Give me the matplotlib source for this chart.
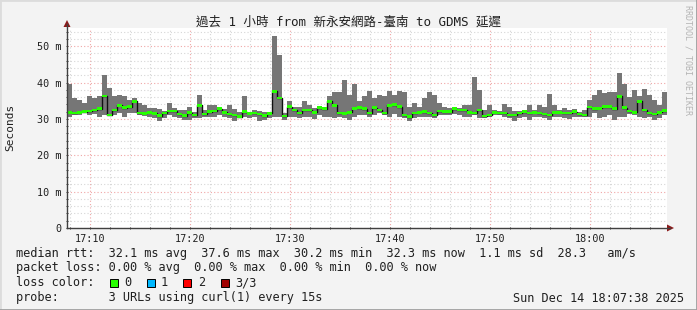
import datetime as dt
import numpy as np
import matplotlib
matplotlib.use("Agg")
import matplotlib.pyplot as plt
import matplotlib.dates as mdates
from matplotlib.patches import Rectangle, Polygon
from matplotlib.lines import Line2D

# ---------------- data (ms), 30 s steps from 17:07:42 ----------------
start_time = "2025-12-14 17:07:42"
step_seconds = 30

rtt_max = [39.6,35.7,35.2,34.3,36.3,35.7,36.2,42.0,38.5,36.2,36.6,36.2,35.2,35.7,34.3,33.9,33.1,32.9,32.8,32.2,
           34.3,33.1,32.5,32.5,33.4,32.0,36.6,32.5,33.7,33.7,33.4,32.8,33.7,32.8,32.0,36.3,32.0,32.5,32.2,32.0,
           31.8,52.7,47.7,31.6,35.0,33.4,33.4,34.8,33.9,33.1,33.4,33.1,36.2,37.5,37.5,40.8,36.6,39.6,34.8,36.2,
           37.7,35.7,36.6,36.3,37.7,36.6,37.7,37.5,33.4,34.3,33.4,35.7,37.5,36.6,34.3,33.4,32.9,33.4,32.9,33.7,
           33.7,41.4,38.0,32.5,33.7,32.5,32.2,34.0,33.4,32.2,32.2,32.5,33.7,32.5,33.7,33.4,36.8,33.9,32.5,33.1,
           32.5,32.8,32.0,32.5,35.2,36.6,38.0,37.1,37.5,37.4,42.6,39.6,35.9,38.0,36.2,38.3,36.6,35.2,33.9,37.4]

rtt_min = [30.6,31.1,31.1,31.6,31.1,31.3,30.6,31.1,31.1,31.1,31.6,30.6,31.6,31.6,31.1,30.8,30.6,30.2,29.4,30.2,
           31.1,30.6,30.2,29.7,29.7,30.2,30.2,30.6,30.6,30.6,31.1,30.6,30.2,29.4,30.2,30.6,30.2,30.6,29.4,29.7,
           30.2,30.6,30.6,29.7,30.6,30.6,30.2,30.6,30.6,30.0,31.1,30.6,30.6,30.2,30.6,30.2,29.7,30.6,31.1,31.1,
           30.6,31.1,31.6,31.1,30.6,31.3,30.6,30.2,29.4,30.2,30.6,30.6,30.6,30.2,31.1,31.1,31.1,31.3,31.1,30.6,
           30.6,31.1,30.2,30.2,30.4,31.1,31.1,30.6,30.2,29.4,30.2,30.6,29.7,30.6,30.4,30.2,29.7,30.6,30.6,30.2,
           30.0,30.6,30.4,30.6,30.6,31.6,30.2,30.6,31.1,29.7,30.6,30.6,31.3,31.1,30.6,30.2,30.6,29.7,30.2,31.1]

rtt_median = [31.8,31.6,31.8,32.0,32.2,32.4,32.8,36.3,31.1,32.5,33.7,33.1,33.4,34.8,31.6,31.5,31.8,31.5,30.9,31.6,
              32.2,32.2,31.3,30.9,31.7,31.1,33.7,31.3,32.0,32.2,32.8,31.8,31.3,31.1,30.6,32.0,31.5,31.6,31.3,30.9,
              31.5,37.6,35.7,30.8,33.4,32.5,31.6,32.4,32.4,31.8,33.1,32.8,34.8,33.7,31.6,31.5,31.8,32.9,33.1,32.8,
              31.6,33.1,32.5,31.6,33.7,33.9,33.4,31.1,30.6,31.6,31.8,32.0,31.6,31.1,32.2,32.0,32.0,32.8,32.5,32.5,
              31.8,31.6,32.5,30.8,31.1,31.8,31.6,31.6,31.1,31.1,31.6,32.0,31.6,31.8,31.6,31.3,31.1,31.8,31.8,31.6,
              31.6,32.0,31.3,31.1,33.3,32.8,32.9,33.4,33.4,32.8,36.2,33.1,32.2,31.8,34.8,32.4,31.6,31.3,31.8,32.3]

y_ticks = [0, 10, 20, 30, 40, 50]
y_tick_labels = ["0", "10 m", "20 m", "30 m", "40 m", "50 m"]

title = "過去 1 小時 from 新永安網路-臺南 to GDMS 延遲"
legend_rtt = "median rtt:  32.1 ms avg  37.6 ms max  30.2 ms min  32.3 ms now  1.1 ms sd  28.3   am/s"
legend_loss = "packet loss: 0.00 % avg  0.00 % max  0.00 % min  0.00 % now"
loss_labels = ["0", "1", "2", "3/3"]
loss_colors = ["#26ff00", "#00b8ff", "#ff0000", "#a10000"]
probe_text = "probe:       3 URLs using curl(1) every 15s"
stamp_text = "Sun Dec 14 18:07:38 2025"

# ---------------- figure ----------------
W, H = 697, 310
fig = plt.figure(figsize=(W / 100, H / 100), dpi=100, facecolor="#f3f3f3")

def fx(px):
    return px / W

def fy(py):
    return 1 - py / H

ax_left, ax_right, ax_bottom, ax_top = 67, 667, 228, 28
ax = fig.add_axes([fx(ax_left), fy(ax_bottom), (ax_right - ax_left) / W, (ax_bottom - ax_top) / H])
ax.set_facecolor("white")

t0 = dt.datetime.strptime(start_time, "%Y-%m-%d %H:%M:%S")
n = len(rtt_median)
edges = [t0 + dt.timedelta(seconds=step_seconds * i) for i in range(n + 1)]
xe = mdates.date2num(edges)

def ext(a):
    return np.append(np.asarray(a, float), a[-1])

smoke = "#767676"
ax.fill_between(xe, ext(rtt_min), ext(rtt_max), step="post", color=smoke, lw=0, zorder=2)
ax.step(xe, ext(rtt_median), where="post", color="#101010", lw=1.0, zorder=3)
band = 0.36
ax.fill_between(xe, ext(rtt_median) - band, ext(rtt_median) + band, step="post",
                color=loss_colors[0], lw=0, zorder=4)

ax.set_xlim(xe[0], xe[-1])
ax.set_ylim(0, 55)

mono = "DejaVu Sans Mono"
ax.yaxis.set_major_locator(matplotlib.ticker.FixedLocator(y_ticks))
ax.yaxis.set_major_formatter(matplotlib.ticker.FixedFormatter(y_tick_labels))
ax.yaxis.set_minor_locator(matplotlib.ticker.MultipleLocator(2))
ax.xaxis.set_major_locator(mdates.MinuteLocator(byminute=range(0, 60, 10)))
ax.xaxis.set_minor_locator(mdates.MinuteLocator(byminute=range(0, 60, 2)))
ax.xaxis.set_major_formatter(mdates.DateFormatter("%H:%M"))

ax.grid(which="minor", color="#d6d6d6", lw=0.8, ls=(0, (1, 2)), zorder=0)
ax.grid(which="major", color="#f0a6a6", lw=0.8, ls=(0, (1, 2)), zorder=0)
ax.set_axisbelow(True)

ax.tick_params(axis="both", which="both", length=2, width=0.7, color="#404040", direction="inout")
ax.tick_params(axis="y", which="major", pad=3.0, labelsize=7.3, labelcolor="#202020")
ax.tick_params(axis="x", which="major", pad=3.5, labelsize=7.3, labelcolor="#202020")
for lab in ax.get_xticklabels() + ax.get_yticklabels():
    lab.set_family(mono)

for s in ["top", "right", "left", "bottom"]:
    ax.spines[s].set_visible(False)

axis_col = "#404040"
arrow_col = "#8b1a1a"
fig.add_artist(Line2D([fx(ax_left), fx(ax_left)], [fy(ax_bottom), fy(24)], color=axis_col, lw=1.0))
fig.add_artist(Line2D([fx(ax_left), fx(670)], [fy(ax_bottom), fy(ax_bottom)], color=axis_col, lw=1.0))
fig.add_artist(Polygon([[fx(ax_left - 3.5), fy(27)], [fx(ax_left + 3.5), fy(27)], [fx(ax_left), fy(20)]],
                       closed=True, color=arrow_col, lw=0))
fig.add_artist(Polygon([[fx(667), fy(ax_bottom - 3.5)], [fx(667), fy(ax_bottom + 3.5)], [fx(674), fy(ax_bottom)]],
                       closed=True, color=arrow_col, lw=0))

# ---------------- texts ----------------
fig.text(fx(348), fy(22), title, ha="center", va="center", fontsize=9.0,
         family=[mono, "Noto Sans CJK TC"], color="#202020")
fig.text(fx(10), fy(127), "Seconds", rotation=90, ha="center", va="center", fontsize=8.0,
         family=mono, color="#202020")
fig.text(fx(688), fy(5), "RRDTOOL / TOBI OETIKER", rotation=270, ha="center", va="top", fontsize=6.0,
         family=mono, color="#b4b4b4")

fs = 8.55
fig.text(fx(16), fy(253), legend_rtt, ha="left", va="center", fontsize=fs, family=mono, color="#202020")
fig.text(fx(16), fy(268), legend_loss, ha="left", va="center", fontsize=fs, family=mono, color="#202020")
fig.text(fx(16), fy(283), "loss color:", ha="left", va="center", fontsize=fs, family=mono, color="#202020")
sq_x = [109.5, 146.5, 183.5, 220.5]
for x0, c, lab in zip(sq_x, loss_colors, loss_labels):
    fig.add_artist(Rectangle((fx(x0), fy(286.5)), 8 / W, 8 / H, facecolor=c, edgecolor="#000000", lw=0.7))
    fig.text(fx(x0 + 14.5), fy(283), lab, ha="left", va="center", fontsize=fs, family=mono, color="#202020")
fig.text(fx(16), fy(298), probe_text, ha="left", va="center", fontsize=fs, family=mono, color="#202020")
fig.text(fx(684), fy(298), stamp_text, ha="right", va="center", fontsize=fs, family=mono, color="#202020")

# 3D frame
fig.add_artist(Line2D([0, 0, 1], [0, 1, 1], color="#dcdcdc", lw=2.0))
fig.add_artist(Line2D([0, 1, 1], [0, 0, 1], color="#9e9e9e", lw=2.0))

fig.savefig("out.png", dpi=100, facecolor=fig.get_facecolor())
